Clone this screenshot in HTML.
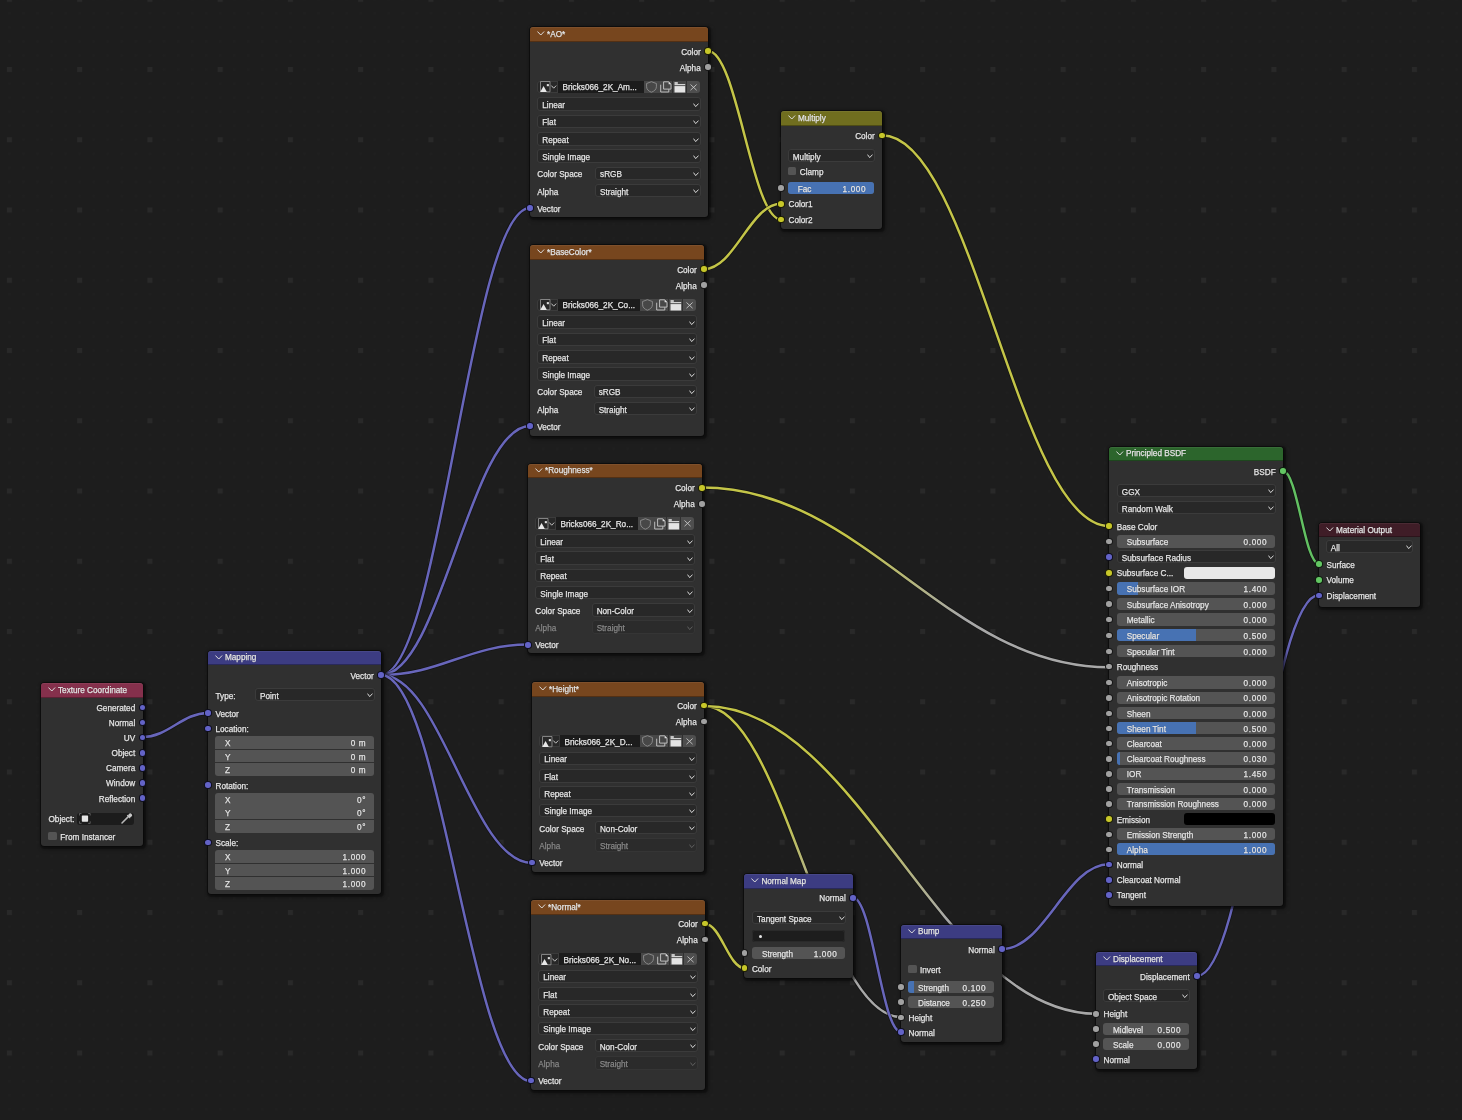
<!DOCTYPE html>
<html><head><meta charset="utf-8"><style>
html,body{margin:0;padding:0;width:1462px;height:1120px;overflow:hidden;}
body{background-color:#1d1d1d;position:relative;font-family:"Liberation Sans",sans-serif;
}
.wires{position:absolute;left:0;top:0;}
.nd{position:absolute;background:#303030;border-radius:3px;box-shadow:0 0 0 0.6px rgba(0,0,0,.45),1px 1px 1.5px 1.2px rgba(0,0,0,.38),2px 2px 5px 1px rgba(0,0,0,.25);}
.hd{position:absolute;border-radius:3px 3px 0 0;box-shadow:inset 0 -1px 0 rgba(0,0,0,.3),inset 0 1px 0 rgba(255,255,255,.06);}
.tl{position:absolute;left:0;top:0;width:1462px;height:1120px;transform:translateZ(0);}
.t{position:absolute;-webkit-text-stroke-width:0.25px;height:12px;line-height:12px;font-size:8.2px;color:#e6e6e6;white-space:nowrap;text-shadow:0 0 1px rgba(0,0,0,.5);}
.chev{position:absolute;}
.dd{position:absolute;background:#282828;border-radius:3px;box-shadow:inset 0 0 0 1px #3b3b3b;box-sizing:border-box;}
.dd.dim{background:#2b2b2b;box-shadow:inset 0 0 0 1px #353535;}
.sl{position:absolute;background:#545454;border-radius:3px;}
.fill{position:absolute;background:#4772b3;}
.cb{position:absolute;background:#545454;border-radius:1.5px;}
.sk{position:absolute;width:5.6px;height:5.6px;border-radius:50%;border:0.8px solid rgba(0,0,0,.85);}
.ib{position:absolute;background:#282828;border-radius:3px 0 0 3px;box-shadow:inset 0 0 0 1px #3b3b3b;}
.nf{position:absolute;background:#1c1c1c;}
.ibt{position:absolute;background:#474747;}
.ibt.x{background:#4e4e4e;border-radius:0 3px 3px 0;}
.tf{position:absolute;background:#1d1d1d;border-radius:3px;box-shadow:inset 0 0 0 1px #2a2a2a;}
.sw{position:absolute;border-radius:3px;}
</style></head><body>
<svg class="wires" width="1462" height="1120" viewBox="0 0 1462 1120"><defs><pattern id="grid2" x="8.15" y="-2" width="14.05" height="14.05" patternUnits="userSpaceOnUse"><rect x="0" y="0" width="2.5" height="2.5" fill="#1f1f1f"/></pattern><pattern id="grid" x="6.9" y="-3.25" width="70.25" height="70.25" patternUnits="userSpaceOnUse"><rect x="0" y="0" width="5" height="5" fill="#292929"/></pattern><linearGradient id="g9" gradientUnits="userSpaceOnUse" x1="702" y1="487.6" x2="1109" y2="667.2"><stop offset="0.35" stop-color="#c4c548"/><stop offset="0.65" stop-color="#a8a8a8"/></linearGradient><linearGradient id="g10" gradientUnits="userSpaceOnUse" x1="704" y1="706" x2="901" y2="1017.1"><stop offset="0.35" stop-color="#c4c548"/><stop offset="0.65" stop-color="#a8a8a8"/></linearGradient><linearGradient id="g11" gradientUnits="userSpaceOnUse" x1="704" y1="706" x2="1096" y2="1013.7"><stop offset="0.35" stop-color="#c4c548"/><stop offset="0.65" stop-color="#a8a8a8"/></linearGradient></defs><rect x="0" y="0" width="1462" height="1120" fill="url(#grid2)"/><rect x="0" y="0" width="1462" height="1120" fill="url(#grid)"/><path d="M142.5 737 C168.7 737 181.8 713 208 713" fill="none" stroke="#101010" stroke-width="4" stroke-opacity="0.7"/><path d="M142.5 737 C168.7 737 181.8 713 208 713" fill="none" stroke="#6866bb" stroke-width="2.5"/><path d="M381 675 C440.6 675 470.4 208 530 208" fill="none" stroke="#101010" stroke-width="4" stroke-opacity="0.7"/><path d="M381 675 C440.6 675 470.4 208 530 208" fill="none" stroke="#6866bb" stroke-width="2.5"/><path d="M381 675 C440.6 675 470.4 426 530 426" fill="none" stroke="#101010" stroke-width="4" stroke-opacity="0.7"/><path d="M381 675 C440.6 675 470.4 426 530 426" fill="none" stroke="#6866bb" stroke-width="2.5"/><path d="M381 675 C439.8 675 469.2 644.6 528 644.6" fill="none" stroke="#101010" stroke-width="4" stroke-opacity="0.7"/><path d="M381 675 C439.8 675 469.2 644.6 528 644.6" fill="none" stroke="#6866bb" stroke-width="2.5"/><path d="M381 675 C441.4 675 471.6 863 532 863" fill="none" stroke="#101010" stroke-width="4" stroke-opacity="0.7"/><path d="M381 675 C441.4 675 471.6 863 532 863" fill="none" stroke="#6866bb" stroke-width="2.5"/><path d="M381 675 C441 675 471 1081 531 1081" fill="none" stroke="#101010" stroke-width="4" stroke-opacity="0.7"/><path d="M381 675 C441 675 471 1081 531 1081" fill="none" stroke="#6866bb" stroke-width="2.5"/><path d="M708 51 C737.2 51 751.8 219.4 781 219.4" fill="none" stroke="#101010" stroke-width="4" stroke-opacity="0.7"/><path d="M708 51 C737.2 51 751.8 219.4 781 219.4" fill="none" stroke="#c4c548" stroke-width="2.5"/><path d="M704 269 C734.8 269 750.2 203.8 781 203.8" fill="none" stroke="#101010" stroke-width="4" stroke-opacity="0.7"/><path d="M704 269 C734.8 269 750.2 203.8 781 203.8" fill="none" stroke="#c4c548" stroke-width="2.5"/><path d="M882 135.2 C972.8 135.2 1018.2 526 1109 526" fill="none" stroke="#101010" stroke-width="4" stroke-opacity="0.7"/><path d="M882 135.2 C972.8 135.2 1018.2 526 1109 526" fill="none" stroke="#c4c548" stroke-width="2.5"/><path d="M702 487.6 C864.8 487.6 946.2 667.2 1109 667.2" fill="none" stroke="#101010" stroke-width="4" stroke-opacity="0.7"/><path d="M702 487.6 C864.8 487.6 946.2 667.2 1109 667.2" fill="none" stroke="url(#g9)" stroke-width="2.5"/><path d="M704 706 C782.8 706 822.2 1017.1 901 1017.1" fill="none" stroke="#101010" stroke-width="4" stroke-opacity="0.7"/><path d="M704 706 C782.8 706 822.2 1017.1 901 1017.1" fill="none" stroke="url(#g10)" stroke-width="2.5"/><path d="M704 706 C860.8 706 939.2 1013.7 1096 1013.7" fill="none" stroke="#101010" stroke-width="4" stroke-opacity="0.7"/><path d="M704 706 C860.8 706 939.2 1013.7 1096 1013.7" fill="none" stroke="url(#g11)" stroke-width="2.5"/><path d="M705 924 C720.76 924 728.64 968 744.4 968" fill="none" stroke="#101010" stroke-width="4" stroke-opacity="0.7"/><path d="M705 924 C720.76 924 728.64 968 744.4 968" fill="none" stroke="#c4c548" stroke-width="2.5"/><path d="M853 897.7 C872.2 897.7 881.8 1032 901 1032" fill="none" stroke="#101010" stroke-width="4" stroke-opacity="0.7"/><path d="M853 897.7 C872.2 897.7 881.8 1032 901 1032" fill="none" stroke="#6866bb" stroke-width="2.5"/><path d="M1002 949 C1044.8 949 1066.2 864.3 1109 864.3" fill="none" stroke="#101010" stroke-width="4" stroke-opacity="0.7"/><path d="M1002 949 C1044.8 949 1066.2 864.3 1109 864.3" fill="none" stroke="#6866bb" stroke-width="2.5"/><path d="M1283 471 C1297.4 471 1304.6 564 1319 564" fill="none" stroke="#101010" stroke-width="4" stroke-opacity="0.7"/><path d="M1283 471 C1297.4 471 1304.6 564 1319 564" fill="none" stroke="#62c062" stroke-width="2.5"/><path d="M1197 976 C1245.8 976 1270.2 595.1 1319 595.1" fill="none" stroke="#101010" stroke-width="4" stroke-opacity="0.7"/><path d="M1197 976 C1245.8 976 1270.2 595.1 1319 595.1" fill="none" stroke="#6866bb" stroke-width="2.5"/></svg>
<div class="nd" style="left:41px;top:683px;width:101.5px;height:163px;"></div>
<div class="hd" style="left:41px;top:683px;width:101.5px;height:14.8px;background:#85304c"></div>
<svg class="chev" style="left:47.6px;top:687.1px" width="8" height="5" viewBox="0 0 8 5"><path d="M0.4 0.5 L3.8 4 L7.1 0.5" fill="none" stroke="#dcdcdc" stroke-width="1"/></svg>
<div class="sk" style="left:138.9px;top:703.7px;background:#6363c7"></div>
<div class="sk" style="left:138.9px;top:718.8px;background:#6363c7"></div>
<div class="sk" style="left:138.9px;top:733.9px;background:#6363c7"></div>
<div class="sk" style="left:138.9px;top:749px;background:#6363c7"></div>
<div class="sk" style="left:138.9px;top:764.1px;background:#6363c7"></div>
<div class="sk" style="left:138.9px;top:779.2px;background:#6363c7"></div>
<div class="sk" style="left:138.9px;top:794.3px;background:#6363c7"></div>
<div class="nf" style="left:76.8px;top:812.9px;width:57.7px;height:12.2px;border-radius:3px"></div>
<svg style="position:absolute;left:79px;top:813.2px" width="12" height="11" viewBox="0 0 12 11"><path d="M0.5 2.5 L0.5 0.5 L2.5 0.5 M9.2 0.5 L11.2 0.5 L11.2 2.5 M11.2 8.3 L11.2 10.4 L9.2 10.4 M2.5 10.4 L0.5 10.4 L0.5 8.3" fill="none" stroke="#6a6a6a" stroke-width="0.8"/><rect x="2.8" y="2.4" width="6.3" height="6.4" rx="0.7" fill="#e6e6e6"/></svg>
<svg style="position:absolute;left:120.6px;top:813.4px" width="12" height="11" viewBox="0 0 12 11"><path d="M1 10 L7.6 3.4" fill="none" stroke="#b8b8b8" stroke-width="1.5" stroke-linecap="round"/><path d="M6.2 2.2 L9.2 5.2" fill="none" stroke="#c4c4c4" stroke-width="1.1"/><ellipse cx="9.2" cy="2.3" rx="1.9" ry="1.8" transform="rotate(-45 9.2 2.3)" fill="#c8c8c8"/></svg>
<div class="cb" style="left:48.3px;top:831.8px;width:8.6px;height:8.6px;"></div>
<div class="nd" style="left:208px;top:651px;width:173px;height:242.5px;"></div>
<div class="hd" style="left:208px;top:651px;width:173px;height:14px;background:#3c3c82"></div>
<svg class="chev" style="left:214.6px;top:654.7px" width="8" height="5" viewBox="0 0 8 5"><path d="M0.4 0.5 L3.8 4 L7.1 0.5" fill="none" stroke="#dcdcdc" stroke-width="1"/></svg>
<div class="sk" style="left:377.4px;top:671.4px;background:#6363c7"></div>
<div class="dd" style="left:255px;top:687.9px;width:120px;height:13.5px;"></div>
<svg class="chev" style="left:367.4px;top:693.4px;" width="6" height="4.5" viewBox="0 0 6 4.5"><path d="M0.5 0.6 L2.7 3.6 L5.5 0.6" fill="none" stroke="#e0e0e0" stroke-width="0.95"/></svg>
<div class="sk" style="left:204.4px;top:709.4px;background:#6363c7"></div>
<div class="sk" style="left:204.4px;top:724.6px;background:#6363c7"></div>
<div class="sl" style="left:215px;top:735.75px;width:159px;height:13.08px;border-radius:3px 3px 0 0"></div>
<div class="sl" style="left:215px;top:749.63px;width:159px;height:12.68px;border-radius:0"></div>
<div class="sl" style="left:215px;top:763.11px;width:159px;height:13.08px;border-radius:0 0 3px 3px"></div>
<div class="sk" style="left:204.4px;top:781.4px;background:#6363c7"></div>
<div class="sl" style="left:215px;top:792.55px;width:159px;height:13.08px;border-radius:3px 3px 0 0"></div>
<div class="sl" style="left:215px;top:806.43px;width:159px;height:12.68px;border-radius:0"></div>
<div class="sl" style="left:215px;top:819.91px;width:159px;height:13.08px;border-radius:0 0 3px 3px"></div>
<div class="sk" style="left:204.4px;top:838.7px;background:#6363c7"></div>
<div class="sl" style="left:215px;top:849.85px;width:159px;height:13.08px;border-radius:3px 3px 0 0"></div>
<div class="sl" style="left:215px;top:863.73px;width:159px;height:12.68px;border-radius:0"></div>
<div class="sl" style="left:215px;top:877.21px;width:159px;height:13.08px;border-radius:0 0 3px 3px"></div>
<div class="nd" style="left:530px;top:27px;width:178px;height:190.3px;"></div>
<div class="hd" style="left:530px;top:27px;width:178px;height:14.6px;background:#77461e"></div>
<svg class="chev" style="left:536.6px;top:31px" width="8" height="5" viewBox="0 0 8 5"><path d="M0.4 0.5 L3.8 4 L7.1 0.5" fill="none" stroke="#dcdcdc" stroke-width="1"/></svg>
<div class="sk" style="left:704.4px;top:47.4px;background:#c7c729"></div>
<div class="sk" style="left:704.4px;top:63.4px;background:#a1a1a1"></div>
<div class="ib" style="left:537.3px;top:80.5px;width:20.3px;height:12.6px;"></div>
<svg style="position:absolute;left:539.6px;top:81.3px" width="17" height="12" viewBox="0 0 17 12"><path d="M0.5 10.8 L0.5 0.5 L10 0.5 L10 10.8 L6.5 10.8" fill="none" stroke="#8c8c8c" stroke-width="0.9"/><path d="M0.2 10.9 L3.6 5 L6.9 10.9 Z" fill="#e8e8e8"/><rect x="6.8" y="3.1" width="2.1" height="2.1" fill="#e0e0e0"/><path d="M11.4 4.6 L13.7 7.2 L16.2 4.6" fill="none" stroke="#d4d4d4" stroke-width="0.9"/></svg>
<div class="nf" style="left:557.6px;top:80.5px;width:86.1px;height:12.6px;"></div>
<div class="ibt" style="left:644.4px;top:80.5px;width:13.38px;height:12.6px;"></div>
<div class="ibt" style="left:658.48px;top:80.5px;width:13.38px;height:12.6px;"></div>
<div class="ibt" style="left:672.55px;top:80.5px;width:13.37px;height:12.6px;"></div>
<div class="ibt x" style="left:686.62px;top:80.5px;width:13.38px;height:12.6px;"></div>
<svg style="position:absolute;left:645.6px;top:81px" width="11" height="12" viewBox="0 0 11 12"><path d="M5.4 0.7 L10.4 2.5 L10.4 5.8 C10.4 8.6 7.8 10.4 5.4 11.2 C3 10.4 0.6 8.6 0.6 5.8 L0.6 2.5 Z" fill="none" stroke="#8e8e8e" stroke-width="0.9"/></svg>
<svg style="position:absolute;left:659.78px;top:81px" width="12" height="12" viewBox="0 0 12 12"><path d="M3.6 0.8 L8.6 0.8 L11 3.2 L11 8.1 L3.6 8.1 Z" fill="none" stroke="#cacaca" stroke-width="0.9"/><path d="M8.6 0.8 L11 3.2 L8.6 3.2 Z" fill="#e0e0e0"/><path d="M0.7 3.7 L0.7 11 L8.8 11 L8.8 8.3" fill="none" stroke="#cacaca" stroke-width="0.9"/></svg>
<svg style="position:absolute;left:673.85px;top:81px" width="12" height="12" viewBox="0 0 12 12"><rect x="0.5" y="1.2" width="3.3" height="1.6" fill="#e4e4e4"/><rect x="0.5" y="3.1" width="10.7" height="1.1" fill="#e4e4e4"/><rect x="0.5" y="5.1" width="10.7" height="6.4" fill="#e4e4e4"/></svg>
<svg style="position:absolute;left:690.22px;top:83.6px" width="7" height="7" viewBox="0 0 7 7"><path d="M0.5 0.5 L6.6 6.2 M6.6 0.5 L0.5 6.2" fill="none" stroke="#d0d0d0" stroke-width="0.85"/></svg>
<div class="dd" style="left:537.3px;top:97.4px;width:163.7px;height:13.5px;"></div>
<svg class="chev" style="left:693.4px;top:102.9px;" width="6" height="4.5" viewBox="0 0 6 4.5"><path d="M0.5 0.6 L2.7 3.6 L5.5 0.6" fill="none" stroke="#e0e0e0" stroke-width="0.95"/></svg>
<div class="dd" style="left:537.3px;top:114.7px;width:163.7px;height:13.5px;"></div>
<svg class="chev" style="left:693.4px;top:120.2px;" width="6" height="4.5" viewBox="0 0 6 4.5"><path d="M0.5 0.6 L2.7 3.6 L5.5 0.6" fill="none" stroke="#e0e0e0" stroke-width="0.95"/></svg>
<div class="dd" style="left:537.3px;top:132px;width:163.7px;height:13.5px;"></div>
<svg class="chev" style="left:693.4px;top:137.5px;" width="6" height="4.5" viewBox="0 0 6 4.5"><path d="M0.5 0.6 L2.7 3.6 L5.5 0.6" fill="none" stroke="#e0e0e0" stroke-width="0.95"/></svg>
<div class="dd" style="left:537.3px;top:149.3px;width:163.7px;height:13.5px;"></div>
<svg class="chev" style="left:693.4px;top:154.8px;" width="6" height="4.5" viewBox="0 0 6 4.5"><path d="M0.5 0.6 L2.7 3.6 L5.5 0.6" fill="none" stroke="#e0e0e0" stroke-width="0.95"/></svg>
<div class="dd" style="left:595.06px;top:166.5px;width:105.94px;height:13.5px;"></div>
<svg class="chev" style="left:693.4px;top:172px;" width="6" height="4.5" viewBox="0 0 6 4.5"><path d="M0.5 0.6 L2.7 3.6 L5.5 0.6" fill="none" stroke="#e0e0e0" stroke-width="0.95"/></svg>
<div class="dd" style="left:595.06px;top:183.8px;width:105.94px;height:13.5px;"></div>
<svg class="chev" style="left:693.4px;top:189.3px;" width="6" height="4.5" viewBox="0 0 6 4.5"><path d="M0.5 0.6 L2.7 3.6 L5.5 0.6" fill="none" stroke="#e0e0e0" stroke-width="0.95"/></svg>
<div class="sk" style="left:526.4px;top:204.4px;background:#6363c7"></div>
<div class="nd" style="left:530px;top:245px;width:174px;height:191px;"></div>
<div class="hd" style="left:530px;top:245px;width:174px;height:14.6px;background:#77461e"></div>
<svg class="chev" style="left:536.6px;top:249px" width="8" height="5" viewBox="0 0 8 5"><path d="M0.4 0.5 L3.8 4 L7.1 0.5" fill="none" stroke="#dcdcdc" stroke-width="1"/></svg>
<div class="sk" style="left:700.4px;top:265.4px;background:#c7c729"></div>
<div class="sk" style="left:700.4px;top:281.4px;background:#a1a1a1"></div>
<div class="ib" style="left:537.3px;top:298.5px;width:20.3px;height:12.6px;"></div>
<svg style="position:absolute;left:539.6px;top:299.3px" width="17" height="12" viewBox="0 0 17 12"><path d="M0.5 10.8 L0.5 0.5 L10 0.5 L10 10.8 L6.5 10.8" fill="none" stroke="#8c8c8c" stroke-width="0.9"/><path d="M0.2 10.9 L3.6 5 L6.9 10.9 Z" fill="#e8e8e8"/><rect x="6.8" y="3.1" width="2.1" height="2.1" fill="#e0e0e0"/><path d="M11.4 4.6 L13.7 7.2 L16.2 4.6" fill="none" stroke="#d4d4d4" stroke-width="0.9"/></svg>
<div class="nf" style="left:557.6px;top:298.5px;width:82.1px;height:12.6px;"></div>
<div class="ibt" style="left:640.4px;top:298.5px;width:13.38px;height:12.6px;"></div>
<div class="ibt" style="left:654.48px;top:298.5px;width:13.38px;height:12.6px;"></div>
<div class="ibt" style="left:668.55px;top:298.5px;width:13.37px;height:12.6px;"></div>
<div class="ibt x" style="left:682.62px;top:298.5px;width:13.38px;height:12.6px;"></div>
<svg style="position:absolute;left:641.6px;top:299px" width="11" height="12" viewBox="0 0 11 12"><path d="M5.4 0.7 L10.4 2.5 L10.4 5.8 C10.4 8.6 7.8 10.4 5.4 11.2 C3 10.4 0.6 8.6 0.6 5.8 L0.6 2.5 Z" fill="none" stroke="#8e8e8e" stroke-width="0.9"/></svg>
<svg style="position:absolute;left:655.78px;top:299px" width="12" height="12" viewBox="0 0 12 12"><path d="M3.6 0.8 L8.6 0.8 L11 3.2 L11 8.1 L3.6 8.1 Z" fill="none" stroke="#cacaca" stroke-width="0.9"/><path d="M8.6 0.8 L11 3.2 L8.6 3.2 Z" fill="#e0e0e0"/><path d="M0.7 3.7 L0.7 11 L8.8 11 L8.8 8.3" fill="none" stroke="#cacaca" stroke-width="0.9"/></svg>
<svg style="position:absolute;left:669.85px;top:299px" width="12" height="12" viewBox="0 0 12 12"><rect x="0.5" y="1.2" width="3.3" height="1.6" fill="#e4e4e4"/><rect x="0.5" y="3.1" width="10.7" height="1.1" fill="#e4e4e4"/><rect x="0.5" y="5.1" width="10.7" height="6.4" fill="#e4e4e4"/></svg>
<svg style="position:absolute;left:686.22px;top:301.6px" width="7" height="7" viewBox="0 0 7 7"><path d="M0.5 0.5 L6.6 6.2 M6.6 0.5 L0.5 6.2" fill="none" stroke="#d0d0d0" stroke-width="0.85"/></svg>
<div class="dd" style="left:537.3px;top:315.4px;width:159.7px;height:13.5px;"></div>
<svg class="chev" style="left:689.4px;top:320.9px;" width="6" height="4.5" viewBox="0 0 6 4.5"><path d="M0.5 0.6 L2.7 3.6 L5.5 0.6" fill="none" stroke="#e0e0e0" stroke-width="0.95"/></svg>
<div class="dd" style="left:537.3px;top:332.7px;width:159.7px;height:13.5px;"></div>
<svg class="chev" style="left:689.4px;top:338.2px;" width="6" height="4.5" viewBox="0 0 6 4.5"><path d="M0.5 0.6 L2.7 3.6 L5.5 0.6" fill="none" stroke="#e0e0e0" stroke-width="0.95"/></svg>
<div class="dd" style="left:537.3px;top:350px;width:159.7px;height:13.5px;"></div>
<svg class="chev" style="left:689.4px;top:355.5px;" width="6" height="4.5" viewBox="0 0 6 4.5"><path d="M0.5 0.6 L2.7 3.6 L5.5 0.6" fill="none" stroke="#e0e0e0" stroke-width="0.95"/></svg>
<div class="dd" style="left:537.3px;top:367.3px;width:159.7px;height:13.5px;"></div>
<svg class="chev" style="left:689.4px;top:372.8px;" width="6" height="4.5" viewBox="0 0 6 4.5"><path d="M0.5 0.6 L2.7 3.6 L5.5 0.6" fill="none" stroke="#e0e0e0" stroke-width="0.95"/></svg>
<div class="dd" style="left:593.64px;top:384.5px;width:103.36px;height:13.5px;"></div>
<svg class="chev" style="left:689.4px;top:390px;" width="6" height="4.5" viewBox="0 0 6 4.5"><path d="M0.5 0.6 L2.7 3.6 L5.5 0.6" fill="none" stroke="#e0e0e0" stroke-width="0.95"/></svg>
<div class="dd" style="left:593.64px;top:401.8px;width:103.36px;height:13.5px;"></div>
<svg class="chev" style="left:689.4px;top:407.3px;" width="6" height="4.5" viewBox="0 0 6 4.5"><path d="M0.5 0.6 L2.7 3.6 L5.5 0.6" fill="none" stroke="#e0e0e0" stroke-width="0.95"/></svg>
<div class="sk" style="left:526.4px;top:422.4px;background:#6363c7"></div>
<div class="nd" style="left:528px;top:463.6px;width:174px;height:189.4px;"></div>
<div class="hd" style="left:528px;top:463.6px;width:174px;height:14.6px;background:#77461e"></div>
<svg class="chev" style="left:534.6px;top:467.6px" width="8" height="5" viewBox="0 0 8 5"><path d="M0.4 0.5 L3.8 4 L7.1 0.5" fill="none" stroke="#dcdcdc" stroke-width="1"/></svg>
<div class="sk" style="left:698.4px;top:484px;background:#c7c729"></div>
<div class="sk" style="left:698.4px;top:500px;background:#a1a1a1"></div>
<div class="ib" style="left:535.3px;top:517.1px;width:20.3px;height:12.6px;"></div>
<svg style="position:absolute;left:537.6px;top:517.9px" width="17" height="12" viewBox="0 0 17 12"><path d="M0.5 10.8 L0.5 0.5 L10 0.5 L10 10.8 L6.5 10.8" fill="none" stroke="#8c8c8c" stroke-width="0.9"/><path d="M0.2 10.9 L3.6 5 L6.9 10.9 Z" fill="#e8e8e8"/><rect x="6.8" y="3.1" width="2.1" height="2.1" fill="#e0e0e0"/><path d="M11.4 4.6 L13.7 7.2 L16.2 4.6" fill="none" stroke="#d4d4d4" stroke-width="0.9"/></svg>
<div class="nf" style="left:555.6px;top:517.1px;width:82.1px;height:12.6px;"></div>
<div class="ibt" style="left:638.4px;top:517.1px;width:13.38px;height:12.6px;"></div>
<div class="ibt" style="left:652.48px;top:517.1px;width:13.38px;height:12.6px;"></div>
<div class="ibt" style="left:666.55px;top:517.1px;width:13.37px;height:12.6px;"></div>
<div class="ibt x" style="left:680.62px;top:517.1px;width:13.38px;height:12.6px;"></div>
<svg style="position:absolute;left:639.6px;top:517.6px" width="11" height="12" viewBox="0 0 11 12"><path d="M5.4 0.7 L10.4 2.5 L10.4 5.8 C10.4 8.6 7.8 10.4 5.4 11.2 C3 10.4 0.6 8.6 0.6 5.8 L0.6 2.5 Z" fill="none" stroke="#8e8e8e" stroke-width="0.9"/></svg>
<svg style="position:absolute;left:653.78px;top:517.6px" width="12" height="12" viewBox="0 0 12 12"><path d="M3.6 0.8 L8.6 0.8 L11 3.2 L11 8.1 L3.6 8.1 Z" fill="none" stroke="#cacaca" stroke-width="0.9"/><path d="M8.6 0.8 L11 3.2 L8.6 3.2 Z" fill="#e0e0e0"/><path d="M0.7 3.7 L0.7 11 L8.8 11 L8.8 8.3" fill="none" stroke="#cacaca" stroke-width="0.9"/></svg>
<svg style="position:absolute;left:667.85px;top:517.6px" width="12" height="12" viewBox="0 0 12 12"><rect x="0.5" y="1.2" width="3.3" height="1.6" fill="#e4e4e4"/><rect x="0.5" y="3.1" width="10.7" height="1.1" fill="#e4e4e4"/><rect x="0.5" y="5.1" width="10.7" height="6.4" fill="#e4e4e4"/></svg>
<svg style="position:absolute;left:684.22px;top:520.2px" width="7" height="7" viewBox="0 0 7 7"><path d="M0.5 0.5 L6.6 6.2 M6.6 0.5 L0.5 6.2" fill="none" stroke="#d0d0d0" stroke-width="0.85"/></svg>
<div class="dd" style="left:535.3px;top:534px;width:159.7px;height:13.5px;"></div>
<svg class="chev" style="left:687.4px;top:539.5px;" width="6" height="4.5" viewBox="0 0 6 4.5"><path d="M0.5 0.6 L2.7 3.6 L5.5 0.6" fill="none" stroke="#e0e0e0" stroke-width="0.95"/></svg>
<div class="dd" style="left:535.3px;top:551.3px;width:159.7px;height:13.5px;"></div>
<svg class="chev" style="left:687.4px;top:556.8px;" width="6" height="4.5" viewBox="0 0 6 4.5"><path d="M0.5 0.6 L2.7 3.6 L5.5 0.6" fill="none" stroke="#e0e0e0" stroke-width="0.95"/></svg>
<div class="dd" style="left:535.3px;top:568.6px;width:159.7px;height:13.5px;"></div>
<svg class="chev" style="left:687.4px;top:574.1px;" width="6" height="4.5" viewBox="0 0 6 4.5"><path d="M0.5 0.6 L2.7 3.6 L5.5 0.6" fill="none" stroke="#e0e0e0" stroke-width="0.95"/></svg>
<div class="dd" style="left:535.3px;top:585.9px;width:159.7px;height:13.5px;"></div>
<svg class="chev" style="left:687.4px;top:591.4px;" width="6" height="4.5" viewBox="0 0 6 4.5"><path d="M0.5 0.6 L2.7 3.6 L5.5 0.6" fill="none" stroke="#e0e0e0" stroke-width="0.95"/></svg>
<div class="dd" style="left:591.64px;top:603.1px;width:103.36px;height:13.5px;"></div>
<svg class="chev" style="left:687.4px;top:608.6px;" width="6" height="4.5" viewBox="0 0 6 4.5"><path d="M0.5 0.6 L2.7 3.6 L5.5 0.6" fill="none" stroke="#e0e0e0" stroke-width="0.95"/></svg>
<div class="dd dim" style="left:591.64px;top:620.4px;width:103.36px;height:13.5px;"></div>
<svg class="chev" style="left:687.4px;top:625.9px;opacity:.3;" width="6" height="4.5" viewBox="0 0 6 4.5"><path d="M0.5 0.6 L2.7 3.6 L5.5 0.6" fill="none" stroke="#e0e0e0" stroke-width="0.95"/></svg>
<div class="sk" style="left:524.4px;top:641px;background:#6363c7"></div>
<div class="nd" style="left:532px;top:682px;width:172px;height:189.5px;"></div>
<div class="hd" style="left:532px;top:682px;width:172px;height:14.6px;background:#77461e"></div>
<svg class="chev" style="left:538.6px;top:686px" width="8" height="5" viewBox="0 0 8 5"><path d="M0.4 0.5 L3.8 4 L7.1 0.5" fill="none" stroke="#dcdcdc" stroke-width="1"/></svg>
<div class="sk" style="left:700.4px;top:701.7px;background:#c7c729"></div>
<div class="sk" style="left:700.4px;top:717.7px;background:#a1a1a1"></div>
<div class="ib" style="left:539.3px;top:734.8px;width:20.3px;height:12.6px;"></div>
<svg style="position:absolute;left:541.6px;top:735.6px" width="17" height="12" viewBox="0 0 17 12"><path d="M0.5 10.8 L0.5 0.5 L10 0.5 L10 10.8 L6.5 10.8" fill="none" stroke="#8c8c8c" stroke-width="0.9"/><path d="M0.2 10.9 L3.6 5 L6.9 10.9 Z" fill="#e8e8e8"/><rect x="6.8" y="3.1" width="2.1" height="2.1" fill="#e0e0e0"/><path d="M11.4 4.6 L13.7 7.2 L16.2 4.6" fill="none" stroke="#d4d4d4" stroke-width="0.9"/></svg>
<div class="nf" style="left:559.6px;top:734.8px;width:80.1px;height:12.6px;"></div>
<div class="ibt" style="left:640.4px;top:734.8px;width:13.38px;height:12.6px;"></div>
<div class="ibt" style="left:654.48px;top:734.8px;width:13.38px;height:12.6px;"></div>
<div class="ibt" style="left:668.55px;top:734.8px;width:13.37px;height:12.6px;"></div>
<div class="ibt x" style="left:682.62px;top:734.8px;width:13.38px;height:12.6px;"></div>
<svg style="position:absolute;left:641.6px;top:735.3px" width="11" height="12" viewBox="0 0 11 12"><path d="M5.4 0.7 L10.4 2.5 L10.4 5.8 C10.4 8.6 7.8 10.4 5.4 11.2 C3 10.4 0.6 8.6 0.6 5.8 L0.6 2.5 Z" fill="none" stroke="#8e8e8e" stroke-width="0.9"/></svg>
<svg style="position:absolute;left:655.78px;top:735.3px" width="12" height="12" viewBox="0 0 12 12"><path d="M3.6 0.8 L8.6 0.8 L11 3.2 L11 8.1 L3.6 8.1 Z" fill="none" stroke="#cacaca" stroke-width="0.9"/><path d="M8.6 0.8 L11 3.2 L8.6 3.2 Z" fill="#e0e0e0"/><path d="M0.7 3.7 L0.7 11 L8.8 11 L8.8 8.3" fill="none" stroke="#cacaca" stroke-width="0.9"/></svg>
<svg style="position:absolute;left:669.85px;top:735.3px" width="12" height="12" viewBox="0 0 12 12"><rect x="0.5" y="1.2" width="3.3" height="1.6" fill="#e4e4e4"/><rect x="0.5" y="3.1" width="10.7" height="1.1" fill="#e4e4e4"/><rect x="0.5" y="5.1" width="10.7" height="6.4" fill="#e4e4e4"/></svg>
<svg style="position:absolute;left:686.22px;top:737.9px" width="7" height="7" viewBox="0 0 7 7"><path d="M0.5 0.5 L6.6 6.2 M6.6 0.5 L0.5 6.2" fill="none" stroke="#d0d0d0" stroke-width="0.85"/></svg>
<div class="dd" style="left:539.3px;top:751.7px;width:157.7px;height:13.5px;"></div>
<svg class="chev" style="left:689.4px;top:757.2px;" width="6" height="4.5" viewBox="0 0 6 4.5"><path d="M0.5 0.6 L2.7 3.6 L5.5 0.6" fill="none" stroke="#e0e0e0" stroke-width="0.95"/></svg>
<div class="dd" style="left:539.3px;top:769px;width:157.7px;height:13.5px;"></div>
<svg class="chev" style="left:689.4px;top:774.5px;" width="6" height="4.5" viewBox="0 0 6 4.5"><path d="M0.5 0.6 L2.7 3.6 L5.5 0.6" fill="none" stroke="#e0e0e0" stroke-width="0.95"/></svg>
<div class="dd" style="left:539.3px;top:786.3px;width:157.7px;height:13.5px;"></div>
<svg class="chev" style="left:689.4px;top:791.8px;" width="6" height="4.5" viewBox="0 0 6 4.5"><path d="M0.5 0.6 L2.7 3.6 L5.5 0.6" fill="none" stroke="#e0e0e0" stroke-width="0.95"/></svg>
<div class="dd" style="left:539.3px;top:803.6px;width:157.7px;height:13.5px;"></div>
<svg class="chev" style="left:689.4px;top:809.1px;" width="6" height="4.5" viewBox="0 0 6 4.5"><path d="M0.5 0.6 L2.7 3.6 L5.5 0.6" fill="none" stroke="#e0e0e0" stroke-width="0.95"/></svg>
<div class="dd" style="left:594.93px;top:820.8px;width:102.07px;height:13.5px;"></div>
<svg class="chev" style="left:689.4px;top:826.3px;" width="6" height="4.5" viewBox="0 0 6 4.5"><path d="M0.5 0.6 L2.7 3.6 L5.5 0.6" fill="none" stroke="#e0e0e0" stroke-width="0.95"/></svg>
<div class="dd dim" style="left:594.93px;top:838.1px;width:102.07px;height:13.5px;"></div>
<svg class="chev" style="left:689.4px;top:843.6px;opacity:.3;" width="6" height="4.5" viewBox="0 0 6 4.5"><path d="M0.5 0.6 L2.7 3.6 L5.5 0.6" fill="none" stroke="#e0e0e0" stroke-width="0.95"/></svg>
<div class="sk" style="left:528.4px;top:858.7px;background:#6363c7"></div>
<div class="nd" style="left:531px;top:900px;width:174px;height:190px;"></div>
<div class="hd" style="left:531px;top:900px;width:174px;height:14.6px;background:#77461e"></div>
<svg class="chev" style="left:537.6px;top:904px" width="8" height="5" viewBox="0 0 8 5"><path d="M0.4 0.5 L3.8 4 L7.1 0.5" fill="none" stroke="#dcdcdc" stroke-width="1"/></svg>
<div class="sk" style="left:701.4px;top:919.7px;background:#c7c729"></div>
<div class="sk" style="left:701.4px;top:935.7px;background:#a1a1a1"></div>
<div class="ib" style="left:538.3px;top:952.8px;width:20.3px;height:12.6px;"></div>
<svg style="position:absolute;left:540.6px;top:953.6px" width="17" height="12" viewBox="0 0 17 12"><path d="M0.5 10.8 L0.5 0.5 L10 0.5 L10 10.8 L6.5 10.8" fill="none" stroke="#8c8c8c" stroke-width="0.9"/><path d="M0.2 10.9 L3.6 5 L6.9 10.9 Z" fill="#e8e8e8"/><rect x="6.8" y="3.1" width="2.1" height="2.1" fill="#e0e0e0"/><path d="M11.4 4.6 L13.7 7.2 L16.2 4.6" fill="none" stroke="#d4d4d4" stroke-width="0.9"/></svg>
<div class="nf" style="left:558.6px;top:952.8px;width:82.1px;height:12.6px;"></div>
<div class="ibt" style="left:641.4px;top:952.8px;width:13.38px;height:12.6px;"></div>
<div class="ibt" style="left:655.48px;top:952.8px;width:13.38px;height:12.6px;"></div>
<div class="ibt" style="left:669.55px;top:952.8px;width:13.37px;height:12.6px;"></div>
<div class="ibt x" style="left:683.62px;top:952.8px;width:13.38px;height:12.6px;"></div>
<svg style="position:absolute;left:642.6px;top:953.3px" width="11" height="12" viewBox="0 0 11 12"><path d="M5.4 0.7 L10.4 2.5 L10.4 5.8 C10.4 8.6 7.8 10.4 5.4 11.2 C3 10.4 0.6 8.6 0.6 5.8 L0.6 2.5 Z" fill="none" stroke="#8e8e8e" stroke-width="0.9"/></svg>
<svg style="position:absolute;left:656.78px;top:953.3px" width="12" height="12" viewBox="0 0 12 12"><path d="M3.6 0.8 L8.6 0.8 L11 3.2 L11 8.1 L3.6 8.1 Z" fill="none" stroke="#cacaca" stroke-width="0.9"/><path d="M8.6 0.8 L11 3.2 L8.6 3.2 Z" fill="#e0e0e0"/><path d="M0.7 3.7 L0.7 11 L8.8 11 L8.8 8.3" fill="none" stroke="#cacaca" stroke-width="0.9"/></svg>
<svg style="position:absolute;left:670.85px;top:953.3px" width="12" height="12" viewBox="0 0 12 12"><rect x="0.5" y="1.2" width="3.3" height="1.6" fill="#e4e4e4"/><rect x="0.5" y="3.1" width="10.7" height="1.1" fill="#e4e4e4"/><rect x="0.5" y="5.1" width="10.7" height="6.4" fill="#e4e4e4"/></svg>
<svg style="position:absolute;left:687.22px;top:955.9px" width="7" height="7" viewBox="0 0 7 7"><path d="M0.5 0.5 L6.6 6.2 M6.6 0.5 L0.5 6.2" fill="none" stroke="#d0d0d0" stroke-width="0.85"/></svg>
<div class="dd" style="left:538.3px;top:969.7px;width:159.7px;height:13.5px;"></div>
<svg class="chev" style="left:690.4px;top:975.2px;" width="6" height="4.5" viewBox="0 0 6 4.5"><path d="M0.5 0.6 L2.7 3.6 L5.5 0.6" fill="none" stroke="#e0e0e0" stroke-width="0.95"/></svg>
<div class="dd" style="left:538.3px;top:987px;width:159.7px;height:13.5px;"></div>
<svg class="chev" style="left:690.4px;top:992.5px;" width="6" height="4.5" viewBox="0 0 6 4.5"><path d="M0.5 0.6 L2.7 3.6 L5.5 0.6" fill="none" stroke="#e0e0e0" stroke-width="0.95"/></svg>
<div class="dd" style="left:538.3px;top:1004.3px;width:159.7px;height:13.5px;"></div>
<svg class="chev" style="left:690.4px;top:1009.8px;" width="6" height="4.5" viewBox="0 0 6 4.5"><path d="M0.5 0.6 L2.7 3.6 L5.5 0.6" fill="none" stroke="#e0e0e0" stroke-width="0.95"/></svg>
<div class="dd" style="left:538.3px;top:1021.6px;width:159.7px;height:13.5px;"></div>
<svg class="chev" style="left:690.4px;top:1027.1px;" width="6" height="4.5" viewBox="0 0 6 4.5"><path d="M0.5 0.6 L2.7 3.6 L5.5 0.6" fill="none" stroke="#e0e0e0" stroke-width="0.95"/></svg>
<div class="dd" style="left:594.64px;top:1038.8px;width:103.36px;height:13.5px;"></div>
<svg class="chev" style="left:690.4px;top:1044.3px;" width="6" height="4.5" viewBox="0 0 6 4.5"><path d="M0.5 0.6 L2.7 3.6 L5.5 0.6" fill="none" stroke="#e0e0e0" stroke-width="0.95"/></svg>
<div class="dd dim" style="left:594.64px;top:1056.1px;width:103.36px;height:13.5px;"></div>
<svg class="chev" style="left:690.4px;top:1061.6px;opacity:.3;" width="6" height="4.5" viewBox="0 0 6 4.5"><path d="M0.5 0.6 L2.7 3.6 L5.5 0.6" fill="none" stroke="#e0e0e0" stroke-width="0.95"/></svg>
<div class="sk" style="left:527.4px;top:1076.7px;background:#6363c7"></div>
<div class="nd" style="left:781px;top:111px;width:101px;height:117.8px;"></div>
<div class="hd" style="left:781px;top:111px;width:101px;height:15.2px;background:#706e1f"></div>
<svg class="chev" style="left:787.6px;top:115.3px" width="8" height="5" viewBox="0 0 8 5"><path d="M0.4 0.5 L3.8 4 L7.1 0.5" fill="none" stroke="#dcdcdc" stroke-width="1"/></svg>
<div class="sk" style="left:878.4px;top:131.6px;background:#c7c729"></div>
<div class="dd" style="left:787.8px;top:148.9px;width:87.2px;height:13.5px;"></div>
<svg class="chev" style="left:867.4px;top:154.4px;" width="6" height="4.5" viewBox="0 0 6 4.5"><path d="M0.5 0.6 L2.7 3.6 L5.5 0.6" fill="none" stroke="#e0e0e0" stroke-width="0.95"/></svg>
<div class="cb" style="left:787.8px;top:166.9px;width:8.6px;height:8.6px;"></div>
<div class="sl" style="left:787.8px;top:181.8px;width:86.2px;height:12.4px;"></div>
<div class="fill" style="left:787.8px;top:181.8px;width:86.2px;height:12.4px;border-radius:3px"></div>
<div class="sk" style="left:777.4px;top:184.4px;background:#a1a1a1"></div>
<div class="sk" style="left:777.4px;top:200.2px;background:#c7c729"></div>
<div class="sk" style="left:777.4px;top:215.8px;background:#c7c729"></div>
<div class="nd" style="left:1109px;top:447px;width:174px;height:458.6px;"></div>
<div class="hd" style="left:1109px;top:447px;width:174px;height:13.8px;background:#2c652c"></div>
<svg class="chev" style="left:1115.6px;top:450.6px" width="8" height="5" viewBox="0 0 8 5"><path d="M0.4 0.5 L3.8 4 L7.1 0.5" fill="none" stroke="#dcdcdc" stroke-width="1"/></svg>
<div class="sk" style="left:1279.4px;top:467.4px;background:#63c763"></div>
<div class="dd" style="left:1116.8px;top:483.9px;width:159.2px;height:13.5px;"></div>
<svg class="chev" style="left:1268.4px;top:489.4px;" width="6" height="4.5" viewBox="0 0 6 4.5"><path d="M0.5 0.6 L2.7 3.6 L5.5 0.6" fill="none" stroke="#e0e0e0" stroke-width="0.95"/></svg>
<div class="dd" style="left:1116.8px;top:500.9px;width:159.2px;height:13.5px;"></div>
<svg class="chev" style="left:1268.4px;top:506.4px;" width="6" height="4.5" viewBox="0 0 6 4.5"><path d="M0.5 0.6 L2.7 3.6 L5.5 0.6" fill="none" stroke="#e0e0e0" stroke-width="0.95"/></svg>
<div class="sk" style="left:1105.4px;top:522.3px;background:#c7c729"></div>
<div class="sk" style="left:1105.4px;top:537.8px;background:#a1a1a1"></div>
<div class="sl" style="left:1116.8px;top:535.2px;width:158.2px;height:12.4px;"></div>
<div class="sk" style="left:1105.4px;top:553.4px;background:#6363c7"></div>
<div class="dd" style="left:1116.8px;top:549.9px;width:159.2px;height:13.5px;"></div>
<svg class="chev" style="left:1268.4px;top:555.4px;" width="6" height="4.5" viewBox="0 0 6 4.5"><path d="M0.5 0.6 L2.7 3.6 L5.5 0.6" fill="none" stroke="#e0e0e0" stroke-width="0.95"/></svg>
<div class="sk" style="left:1105.4px;top:569px;background:#c7c729"></div>
<div class="sw" style="left:1183.9px;top:566.8px;width:91.1px;height:12px;background:#e8e8e8"></div>
<div class="sk" style="left:1105.4px;top:584.9px;background:#a1a1a1"></div>
<div class="sl" style="left:1116.8px;top:582.3px;width:158.2px;height:12.4px;"></div>
<div class="fill" style="left:1116.8px;top:582.3px;width:21.36px;height:12.4px;border-radius:3px 0 0 3px"></div>
<div class="sk" style="left:1105.4px;top:600.3px;background:#a1a1a1"></div>
<div class="sl" style="left:1116.8px;top:597.7px;width:158.2px;height:12.4px;"></div>
<div class="sk" style="left:1105.4px;top:615.9px;background:#a1a1a1"></div>
<div class="sl" style="left:1116.8px;top:613.3px;width:158.2px;height:12.4px;"></div>
<div class="sk" style="left:1105.4px;top:631.7px;background:#a1a1a1"></div>
<div class="sl" style="left:1116.8px;top:629.1px;width:158.2px;height:12.4px;"></div>
<div class="fill" style="left:1116.8px;top:629.1px;width:79.1px;height:12.4px;border-radius:3px 0 0 3px"></div>
<div class="sk" style="left:1105.4px;top:647.5px;background:#a1a1a1"></div>
<div class="sl" style="left:1116.8px;top:644.9px;width:158.2px;height:12.4px;"></div>
<div class="sk" style="left:1105.4px;top:662.9px;background:#a1a1a1"></div>
<div class="sk" style="left:1105.4px;top:678.9px;background:#a1a1a1"></div>
<div class="sl" style="left:1116.8px;top:676.3px;width:158.2px;height:12.4px;"></div>
<div class="sk" style="left:1105.4px;top:694.1px;background:#a1a1a1"></div>
<div class="sl" style="left:1116.8px;top:691.5px;width:158.2px;height:12.4px;"></div>
<div class="sk" style="left:1105.4px;top:709.5px;background:#a1a1a1"></div>
<div class="sl" style="left:1116.8px;top:706.9px;width:158.2px;height:12.4px;"></div>
<div class="sk" style="left:1105.4px;top:724.6px;background:#a1a1a1"></div>
<div class="sl" style="left:1116.8px;top:722px;width:158.2px;height:12.4px;"></div>
<div class="fill" style="left:1116.8px;top:722px;width:79.1px;height:12.4px;border-radius:3px 0 0 3px"></div>
<div class="sk" style="left:1105.4px;top:739.8px;background:#a1a1a1"></div>
<div class="sl" style="left:1116.8px;top:737.2px;width:158.2px;height:12.4px;"></div>
<div class="sk" style="left:1105.4px;top:755px;background:#a1a1a1"></div>
<div class="sl" style="left:1116.8px;top:752.4px;width:158.2px;height:12.4px;"></div>
<div class="fill" style="left:1116.8px;top:752.4px;width:3.16px;height:12.4px;border-radius:3px 0 0 3px"></div>
<div class="sk" style="left:1105.4px;top:770.15px;background:#a1a1a1"></div>
<div class="sl" style="left:1116.8px;top:767.55px;width:158.2px;height:12.4px;"></div>
<div class="sk" style="left:1105.4px;top:785.3px;background:#a1a1a1"></div>
<div class="sl" style="left:1116.8px;top:782.7px;width:158.2px;height:12.4px;"></div>
<div class="sk" style="left:1105.4px;top:800.15px;background:#a1a1a1"></div>
<div class="sl" style="left:1116.8px;top:797.55px;width:158.2px;height:12.4px;"></div>
<div class="sk" style="left:1105.4px;top:815.3px;background:#c7c729"></div>
<div class="sw" style="left:1183.9px;top:813.1px;width:91.1px;height:12px;background:#000000"></div>
<div class="sk" style="left:1105.4px;top:830.5px;background:#a1a1a1"></div>
<div class="sl" style="left:1116.8px;top:827.9px;width:158.2px;height:12.4px;"></div>
<div class="sk" style="left:1105.4px;top:845.7px;background:#a1a1a1"></div>
<div class="sl" style="left:1116.8px;top:843.1px;width:158.2px;height:12.4px;"></div>
<div class="fill" style="left:1116.8px;top:843.1px;width:158.2px;height:12.4px;border-radius:3px"></div>
<div class="sk" style="left:1105.4px;top:860.9px;background:#6363c7"></div>
<div class="sk" style="left:1105.4px;top:876px;background:#6363c7"></div>
<div class="sk" style="left:1105.4px;top:891.2px;background:#6363c7"></div>
<div class="nd" style="left:1319px;top:523px;width:101px;height:84px;"></div>
<div class="hd" style="left:1319px;top:523px;width:101px;height:14.2px;background:#3f1d27"></div>
<svg class="chev" style="left:1325.6px;top:526.8px" width="8" height="5" viewBox="0 0 8 5"><path d="M0.4 0.5 L3.8 4 L7.1 0.5" fill="none" stroke="#dcdcdc" stroke-width="1"/></svg>
<div class="dd" style="left:1325.8px;top:539.9px;width:87.6px;height:13.5px;"></div>
<svg class="chev" style="left:1405.8px;top:545.4px;" width="6" height="4.5" viewBox="0 0 6 4.5"><path d="M0.5 0.6 L2.7 3.6 L5.5 0.6" fill="none" stroke="#e0e0e0" stroke-width="0.95"/></svg>
<div class="sk" style="left:1315.4px;top:560.4px;background:#63c763"></div>
<div class="sk" style="left:1315.4px;top:576.2px;background:#63c763"></div>
<div class="sk" style="left:1315.4px;top:591.5px;background:#6363c7"></div>
<div class="nd" style="left:744.4px;top:874px;width:108.6px;height:103.8px;"></div>
<div class="hd" style="left:744.4px;top:874px;width:108.6px;height:14.8px;background:#3c3c82"></div>
<svg class="chev" style="left:751px;top:878.1px" width="8" height="5" viewBox="0 0 8 5"><path d="M0.4 0.5 L3.8 4 L7.1 0.5" fill="none" stroke="#dcdcdc" stroke-width="1"/></svg>
<div class="sk" style="left:849.4px;top:894.1px;background:#6363c7"></div>
<div class="dd" style="left:752px;top:910.9px;width:94.2px;height:13.5px;"></div>
<svg class="chev" style="left:838.6px;top:916.4px;" width="6" height="4.5" viewBox="0 0 6 4.5"><path d="M0.5 0.6 L2.7 3.6 L5.5 0.6" fill="none" stroke="#e0e0e0" stroke-width="0.95"/></svg>
<div class="tf" style="left:752px;top:929.8px;width:93.2px;height:12.2px;"></div>
<div style="position:absolute;left:758.9px;top:934.5px;width:3px;height:3px;border-radius:50%;background:#e8e8e8"></div>
<div class="sl" style="left:752px;top:946.8px;width:93.2px;height:12.4px;"></div>
<div class="sk" style="left:740.8px;top:949.4px;background:#a1a1a1"></div>
<div class="sk" style="left:740.8px;top:964.4px;background:#c7c729"></div>
<div class="nd" style="left:901px;top:925px;width:101px;height:116.5px;"></div>
<div class="hd" style="left:901px;top:925px;width:101px;height:13.8px;background:#3c3c82"></div>
<svg class="chev" style="left:907.6px;top:928.6px" width="8" height="5" viewBox="0 0 8 5"><path d="M0.4 0.5 L3.8 4 L7.1 0.5" fill="none" stroke="#dcdcdc" stroke-width="1"/></svg>
<div class="sk" style="left:998.4px;top:945.4px;background:#6363c7"></div>
<div class="cb" style="left:908px;top:964.7px;width:8.6px;height:8.6px;"></div>
<div class="sl" style="left:908px;top:980.8px;width:86px;height:12.4px;"></div>
<div class="fill" style="left:908px;top:980.8px;width:6.02px;height:12.4px;border-radius:3px 0 0 3px"></div>
<div class="sk" style="left:897.4px;top:983.4px;background:#a1a1a1"></div>
<div class="sl" style="left:908px;top:995.8px;width:86px;height:12.4px;"></div>
<div class="sk" style="left:897.4px;top:998.4px;background:#a1a1a1"></div>
<div class="sk" style="left:897.4px;top:1013.5px;background:#a1a1a1"></div>
<div class="sk" style="left:897.4px;top:1028.4px;background:#6363c7"></div>
<div class="nd" style="left:1096px;top:952px;width:101px;height:116.7px;"></div>
<div class="hd" style="left:1096px;top:952px;width:101px;height:14.2px;background:#3c3c82"></div>
<svg class="chev" style="left:1102.6px;top:955.8px" width="8" height="5" viewBox="0 0 8 5"><path d="M0.4 0.5 L3.8 4 L7.1 0.5" fill="none" stroke="#dcdcdc" stroke-width="1"/></svg>
<div class="sk" style="left:1193.4px;top:972.4px;background:#6363c7"></div>
<div class="dd" style="left:1103px;top:988.9px;width:87px;height:13.5px;"></div>
<svg class="chev" style="left:1182.4px;top:994.4px;" width="6" height="4.5" viewBox="0 0 6 4.5"><path d="M0.5 0.6 L2.7 3.6 L5.5 0.6" fill="none" stroke="#e0e0e0" stroke-width="0.95"/></svg>
<div class="sk" style="left:1092.4px;top:1010.1px;background:#a1a1a1"></div>
<div class="sl" style="left:1103px;top:1022.8px;width:86px;height:12.4px;"></div>
<div class="sk" style="left:1092.4px;top:1025.4px;background:#a1a1a1"></div>
<div class="sl" style="left:1103px;top:1037.8px;width:86px;height:12.4px;"></div>
<div class="sk" style="left:1092.4px;top:1040.4px;background:#a1a1a1"></div>
<div class="sk" style="left:1092.4px;top:1055.4px;background:#6363c7"></div>
<div class="tl">
<div class="t" style="top:684.8px;left:58px;">Texture Coordinate</div>
<div class="t" style="top:702.9px;right:1326.8px;">Generated</div>
<div class="t" style="top:718px;right:1326.8px;">Normal</div>
<div class="t" style="top:733.1px;right:1326.8px;">UV</div>
<div class="t" style="top:748.2px;right:1326.8px;">Object</div>
<div class="t" style="top:763.3px;right:1326.8px;">Camera</div>
<div class="t" style="top:778.4px;right:1326.8px;">Window</div>
<div class="t" style="top:793.5px;right:1326.8px;">Reflection</div>
<div class="t" style="top:814.4px;left:48.5px;">Object:</div>
<div class="t" style="top:831.7px;left:60.3px;">From Instancer</div>
<div class="t" style="top:652.4px;left:225px;">Mapping</div>
<div class="t" style="top:670.6px;right:1088.3px;">Vector</div>
<div class="t" style="top:690.6px;left:215.5px;">Type:</div>
<div class="t" style="top:690.6px;left:260px;">Point</div>
<div class="t" style="top:708.6px;left:215.5px;">Vector</div>
<div class="t" style="top:723.8px;left:215.5px;">Location:</div>
<div class="t" style="top:738.09px;left:225px;">X</div>
<div class="t" style="top:738.09px;right:1095.9px;letter-spacing:0.6px;">0 m</div>
<div class="t" style="top:751.57px;left:225px;">Y</div>
<div class="t" style="top:751.57px;right:1095.9px;letter-spacing:0.6px;">0 m</div>
<div class="t" style="top:765.05px;left:225px;">Z</div>
<div class="t" style="top:765.05px;right:1095.9px;letter-spacing:0.6px;">0 m</div>
<div class="t" style="top:780.6px;left:215.5px;">Rotation:</div>
<div class="t" style="top:794.89px;left:225px;">X</div>
<div class="t" style="top:794.89px;right:1095.9px;letter-spacing:0.6px;">0°</div>
<div class="t" style="top:808.37px;left:225px;">Y</div>
<div class="t" style="top:808.37px;right:1095.9px;letter-spacing:0.6px;">0°</div>
<div class="t" style="top:821.85px;left:225px;">Z</div>
<div class="t" style="top:821.85px;right:1095.9px;letter-spacing:0.6px;">0°</div>
<div class="t" style="top:837.9px;left:215.5px;">Scale:</div>
<div class="t" style="top:852.19px;left:225px;">X</div>
<div class="t" style="top:852.19px;right:1095.9px;letter-spacing:0.6px;">1.000</div>
<div class="t" style="top:865.67px;left:225px;">Y</div>
<div class="t" style="top:865.67px;right:1095.9px;letter-spacing:0.6px;">1.000</div>
<div class="t" style="top:879.15px;left:225px;">Z</div>
<div class="t" style="top:879.15px;right:1095.9px;letter-spacing:0.6px;">1.000</div>
<div class="t" style="top:28.7px;left:547px;">*AO*</div>
<div class="t" style="top:46.6px;right:761.3px;">Color</div>
<div class="t" style="top:62.6px;right:761.3px;">Alpha</div>
<div class="t" style="top:82.4px;left:562.6px;">Bricks066_2K_Am...</div>
<div class="t" style="top:100.1px;left:542.3px;">Linear</div>
<div class="t" style="top:117.4px;left:542.3px;">Flat</div>
<div class="t" style="top:134.7px;left:542.3px;">Repeat</div>
<div class="t" style="top:152px;left:542.3px;">Single Image</div>
<div class="t" style="top:169.2px;left:537.3px;">Color Space</div>
<div class="t" style="top:169.2px;left:600.06px;">sRGB</div>
<div class="t" style="top:186.5px;left:537.3px;">Alpha</div>
<div class="t" style="top:186.5px;left:600.06px;">Straight</div>
<div class="t" style="top:203.6px;left:537.3px;">Vector</div>
<div class="t" style="top:246.7px;left:547px;">*BaseColor*</div>
<div class="t" style="top:264.6px;right:765.3px;">Color</div>
<div class="t" style="top:280.6px;right:765.3px;">Alpha</div>
<div class="t" style="top:300.4px;left:562.6px;">Bricks066_2K_Co...</div>
<div class="t" style="top:318.1px;left:542.3px;">Linear</div>
<div class="t" style="top:335.4px;left:542.3px;">Flat</div>
<div class="t" style="top:352.7px;left:542.3px;">Repeat</div>
<div class="t" style="top:370px;left:542.3px;">Single Image</div>
<div class="t" style="top:387.2px;left:537.3px;">Color Space</div>
<div class="t" style="top:387.2px;left:598.64px;">sRGB</div>
<div class="t" style="top:404.5px;left:537.3px;">Alpha</div>
<div class="t" style="top:404.5px;left:598.64px;">Straight</div>
<div class="t" style="top:421.6px;left:537.3px;">Vector</div>
<div class="t" style="top:465.3px;left:545px;">*Roughness*</div>
<div class="t" style="top:483.2px;right:767.3px;">Color</div>
<div class="t" style="top:499.2px;right:767.3px;">Alpha</div>
<div class="t" style="top:519px;left:560.6px;">Bricks066_2K_Ro...</div>
<div class="t" style="top:536.7px;left:540.3px;">Linear</div>
<div class="t" style="top:554px;left:540.3px;">Flat</div>
<div class="t" style="top:571.3px;left:540.3px;">Repeat</div>
<div class="t" style="top:588.6px;left:540.3px;">Single Image</div>
<div class="t" style="top:605.8px;left:535.3px;">Color Space</div>
<div class="t" style="top:605.8px;left:596.64px;">Non-Color</div>
<div class="t" style="top:623.1px;left:535.3px;color:#888;">Alpha</div>
<div class="t" style="top:623.1px;left:596.64px;color:#8a8a8a;">Straight</div>
<div class="t" style="top:640.2px;left:535.3px;">Vector</div>
<div class="t" style="top:683.7px;left:549px;">*Height*</div>
<div class="t" style="top:700.9px;right:765.3px;">Color</div>
<div class="t" style="top:716.9px;right:765.3px;">Alpha</div>
<div class="t" style="top:736.7px;left:564.6px;">Bricks066_2K_D...</div>
<div class="t" style="top:754.4px;left:544.3px;">Linear</div>
<div class="t" style="top:771.7px;left:544.3px;">Flat</div>
<div class="t" style="top:789px;left:544.3px;">Repeat</div>
<div class="t" style="top:806.3px;left:544.3px;">Single Image</div>
<div class="t" style="top:823.5px;left:539.3px;">Color Space</div>
<div class="t" style="top:823.5px;left:599.93px;">Non-Color</div>
<div class="t" style="top:840.8px;left:539.3px;color:#888;">Alpha</div>
<div class="t" style="top:840.8px;left:599.93px;color:#8a8a8a;">Straight</div>
<div class="t" style="top:857.9px;left:539.3px;">Vector</div>
<div class="t" style="top:901.7px;left:548px;">*Normal*</div>
<div class="t" style="top:918.9px;right:764.3px;">Color</div>
<div class="t" style="top:934.9px;right:764.3px;">Alpha</div>
<div class="t" style="top:954.7px;left:563.6px;">Bricks066_2K_No...</div>
<div class="t" style="top:972.4px;left:543.3px;">Linear</div>
<div class="t" style="top:989.7px;left:543.3px;">Flat</div>
<div class="t" style="top:1007px;left:543.3px;">Repeat</div>
<div class="t" style="top:1024.3px;left:543.3px;">Single Image</div>
<div class="t" style="top:1041.5px;left:538.3px;">Color Space</div>
<div class="t" style="top:1041.5px;left:599.64px;">Non-Color</div>
<div class="t" style="top:1058.8px;left:538.3px;color:#888;">Alpha</div>
<div class="t" style="top:1058.8px;left:599.64px;color:#8a8a8a;">Straight</div>
<div class="t" style="top:1075.9px;left:538.3px;">Vector</div>
<div class="t" style="top:113px;left:798px;">Multiply</div>
<div class="t" style="top:130.8px;right:587.3px;">Color</div>
<div class="t" style="top:151.6px;left:792.8px;">Multiply</div>
<div class="t" style="top:166.8px;left:799.8px;">Clamp</div>
<div class="t" style="top:183.6px;left:797.8px;">Fac</div>
<div class="t" style="top:183.6px;right:595.9px;letter-spacing:0.6px;">1.000</div>
<div class="t" style="top:199.4px;left:788.5px;">Color1</div>
<div class="t" style="top:215px;left:788.5px;">Color2</div>
<div class="t" style="top:448.3px;left:1126px;">Principled BSDF</div>
<div class="t" style="top:466.6px;right:186.3px;">BSDF</div>
<div class="t" style="top:486.6px;left:1121.8px;">GGX</div>
<div class="t" style="top:503.6px;left:1121.8px;">Random Walk</div>
<div class="t" style="top:521.5px;left:1116.8px;">Base Color</div>
<div class="t" style="top:537px;left:1126.8px;">Subsurface</div>
<div class="t" style="top:537px;right:194.9px;letter-spacing:0.6px;">0.000</div>
<div class="t" style="top:552.6px;left:1121.8px;">Subsurface Radius</div>
<div class="t" style="top:568.2px;left:1116.8px;">Subsurface C...</div>
<div class="t" style="top:584.1px;left:1126.8px;">Subsurface IOR</div>
<div class="t" style="top:584.1px;right:194.9px;letter-spacing:0.6px;">1.400</div>
<div class="t" style="top:599.5px;left:1126.8px;">Subsurface Anisotropy</div>
<div class="t" style="top:599.5px;right:194.9px;letter-spacing:0.6px;">0.000</div>
<div class="t" style="top:615.1px;left:1126.8px;">Metallic</div>
<div class="t" style="top:615.1px;right:194.9px;letter-spacing:0.6px;">0.000</div>
<div class="t" style="top:630.9px;left:1126.8px;">Specular</div>
<div class="t" style="top:630.9px;right:194.9px;letter-spacing:0.6px;">0.500</div>
<div class="t" style="top:646.7px;left:1126.8px;">Specular Tint</div>
<div class="t" style="top:646.7px;right:194.9px;letter-spacing:0.6px;">0.000</div>
<div class="t" style="top:662.1px;left:1116.8px;">Roughness</div>
<div class="t" style="top:678.1px;left:1126.8px;">Anisotropic</div>
<div class="t" style="top:678.1px;right:194.9px;letter-spacing:0.6px;">0.000</div>
<div class="t" style="top:693.3px;left:1126.8px;">Anisotropic Rotation</div>
<div class="t" style="top:693.3px;right:194.9px;letter-spacing:0.6px;">0.000</div>
<div class="t" style="top:708.7px;left:1126.8px;">Sheen</div>
<div class="t" style="top:708.7px;right:194.9px;letter-spacing:0.6px;">0.000</div>
<div class="t" style="top:723.8px;left:1126.8px;">Sheen Tint</div>
<div class="t" style="top:723.8px;right:194.9px;letter-spacing:0.6px;">0.500</div>
<div class="t" style="top:739px;left:1126.8px;">Clearcoat</div>
<div class="t" style="top:739px;right:194.9px;letter-spacing:0.6px;">0.000</div>
<div class="t" style="top:754.2px;left:1126.8px;">Clearcoat Roughness</div>
<div class="t" style="top:754.2px;right:194.9px;letter-spacing:0.6px;">0.030</div>
<div class="t" style="top:769.35px;left:1126.8px;">IOR</div>
<div class="t" style="top:769.35px;right:194.9px;letter-spacing:0.6px;">1.450</div>
<div class="t" style="top:784.5px;left:1126.8px;">Transmission</div>
<div class="t" style="top:784.5px;right:194.9px;letter-spacing:0.6px;">0.000</div>
<div class="t" style="top:799.35px;left:1126.8px;">Transmission Roughness</div>
<div class="t" style="top:799.35px;right:194.9px;letter-spacing:0.6px;">0.000</div>
<div class="t" style="top:814.5px;left:1116.8px;">Emission</div>
<div class="t" style="top:829.7px;left:1126.8px;">Emission Strength</div>
<div class="t" style="top:829.7px;right:194.9px;letter-spacing:0.6px;">1.000</div>
<div class="t" style="top:844.9px;left:1126.8px;">Alpha</div>
<div class="t" style="top:844.9px;right:194.9px;letter-spacing:0.6px;">1.000</div>
<div class="t" style="top:860.1px;left:1116.8px;">Normal</div>
<div class="t" style="top:875.2px;left:1116.8px;">Clearcoat Normal</div>
<div class="t" style="top:890.4px;left:1116.8px;">Tangent</div>
<div class="t" style="top:524.5px;left:1336px;">Material Output</div>
<div class="t" style="top:542.6px;left:1330.8px;">All</div>
<div class="t" style="top:559.6px;left:1326.5px;">Surface</div>
<div class="t" style="top:575.4px;left:1326.5px;">Volume</div>
<div class="t" style="top:590.7px;left:1326.5px;">Displacement</div>
<div class="t" style="top:875.8px;left:761.4px;">Normal Map</div>
<div class="t" style="top:893.3px;right:616.3px;">Normal</div>
<div class="t" style="top:913.6px;left:757px;">Tangent Space</div>
<div class="t" style="top:948.6px;left:762px;">Strength</div>
<div class="t" style="top:948.6px;right:624.7px;letter-spacing:0.6px;">1.000</div>
<div class="t" style="top:963.6px;left:751.9px;">Color</div>
<div class="t" style="top:926.3px;left:918px;">Bump</div>
<div class="t" style="top:944.6px;right:467.3px;">Normal</div>
<div class="t" style="top:964.6px;left:920px;">Invert</div>
<div class="t" style="top:982.6px;left:918px;">Strength</div>
<div class="t" style="top:982.6px;right:475.9px;letter-spacing:0.6px;">0.100</div>
<div class="t" style="top:997.6px;left:918px;">Distance</div>
<div class="t" style="top:997.6px;right:475.9px;letter-spacing:0.6px;">0.250</div>
<div class="t" style="top:1012.7px;left:908.5px;">Height</div>
<div class="t" style="top:1027.6px;left:908.5px;">Normal</div>
<div class="t" style="top:953.5px;left:1113px;">Displacement</div>
<div class="t" style="top:971.6px;right:272.3px;">Displacement</div>
<div class="t" style="top:991.6px;left:1108px;">Object Space</div>
<div class="t" style="top:1009.3px;left:1103.5px;">Height</div>
<div class="t" style="top:1024.6px;left:1113px;">Midlevel</div>
<div class="t" style="top:1024.6px;right:280.9px;letter-spacing:0.6px;">0.500</div>
<div class="t" style="top:1039.6px;left:1113px;">Scale</div>
<div class="t" style="top:1039.6px;right:280.9px;letter-spacing:0.6px;">0.000</div>
<div class="t" style="top:1054.6px;left:1103.5px;">Normal</div>
</div>
</body></html>
